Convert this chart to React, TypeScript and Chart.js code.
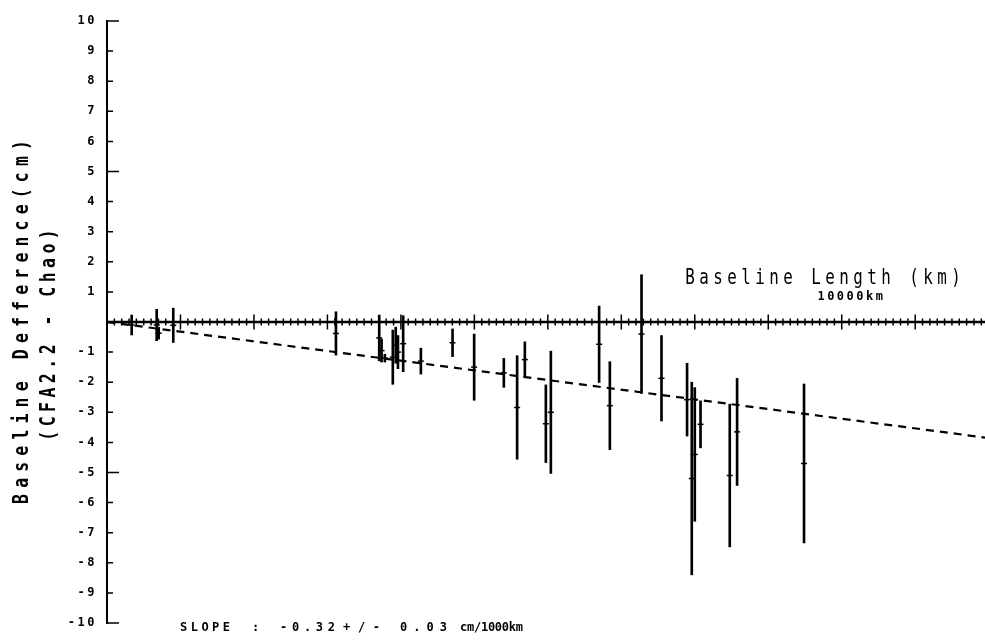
import React, { useEffect, useRef } from 'react';
import { Chart, registerables } from 'chart.js';

Chart.register(...registerables);

// ---- data ----
const baselineKm = [336, 676, 703, 902, 3116, 3705, 3737, 3782, 3890, 3930, 3960, 4031, 4272, 4703, 4997, 5401, 5582, 5687, 5973, 6041, 6698, 6844, 7275, 7547, 7895, 7959, 8000, 8078, 8476, 8576, 9487];
const diffCm = [-0.1, -0.1, -0.37, -0.11, -0.38, -0.53, -0.95, -1.2, -1.17, -0.77, -1.0, -0.72, -1.3, -0.69, -1.5, -1.69, -2.84, -1.25, -3.38, -3.0, -0.74, -2.78, -0.4, -1.87, -2.58, -5.2, -4.4, -3.4, -5.1, -3.65, -4.7];
const sigmaCm = [0.33, 0.52, 0.2, 0.57, 0.72, 0.76, 0.38, 0.13, 0.9, 0.6, 0.55, 0.93, 0.43, 0.46, 1.1, 0.48, 1.72, 0.59, 1.29, 2.03, 1.27, 1.46, 1.97, 1.42, 1.21, 3.2, 2.22, 0.78, 2.37, 1.78, 2.64];

const fitKm = [0, 11950];
const fitCm = [0, -3.84];

const yTicks = [10, 9, 8, 7, 6, 5, 4, 3, 2, 1, 0, -1, -2, -3, -4, -5, -6, -7, -8, -9, -10];
const xMinorStepKm = 100;
const xMajorStepKm = 1000;
const xLabelKm = 10000;
const xLabelText = '10000';
const xLabelUnit = 'km';

const yTitle1 = 'Baseline Defference(cm)';
const yTitle2 = '(CFA2.2 - Chao)';
const xTitle = 'Baseline Length (km)';
const slopeParts = ['SLOPE', ':', '-0.32', '+/-', '0.03', 'cm/1000km'];

const X_MIN = 0;
const X_MAX = 11950;

// layout of the slope note segments: [left, width]
const slopeLayout: [number, number][] = [[180, 50], [252, 6], [280, 55], [343, 37], [400, 47], [460, 63]];

function drawPitched(ctx: CanvasRenderingContext2D, text: string, startX: number, baseY: number, pitch: number, sx: number) {
  ctx.textAlign = 'center';
  ctx.textBaseline = 'alphabetic';
  for (let i = 0; i < text.length; i++) {
    const ch = text[i];
    if (ch === ' ') continue;
    const cx = startX + pitch * (i + 0.5);
    ctx.save();
    ctx.translate(cx, baseY);
    ctx.scale(sx, 1);
    ctx.fillText(ch, 0, 0);
    ctx.restore();
  }
}

function drawFitted(ctx: CanvasRenderingContext2D, text: string, x: number, y: number, width: number) {
  (ctx as any).letterSpacing = '0px';
  const w0 = ctx.measureText(text).width;
  const n = Math.max(text.length - 1, 1);
  const ls = text.length > 1 ? (width - w0) / n : 0;
  (ctx as any).letterSpacing = ls + 'px';
  ctx.textAlign = 'left';
  ctx.fillText(text, x, y);
  (ctx as any).letterSpacing = '0px';
}

const plotterPlugin = {
  id: 'plotterAxes',
  beforeDraw(chart: any) {
    (chart.ctx as any).letterSpacing = '2.5px';
  },
  afterDraw(chart: any) {
    const ctx: CanvasRenderingContext2D = chart.ctx;
    const xs = chart.scales.x;
    const ys = chart.scales.y;
    const { left, right, top, bottom } = chart.chartArea;
    ctx.save();
    (ctx as any).letterSpacing = '0px';
    ctx.strokeStyle = '#000';
    ctx.fillStyle = '#000';
    ctx.lineCap = 'butt';

    // vertical axis
    ctx.lineWidth = 2;
    ctx.beginPath();
    ctx.moveTo(left, top - 1);
    ctx.lineTo(left, bottom + 1);
    ctx.stroke();
    ctx.lineWidth = 1.5;
    ctx.beginPath();
    yTicks.forEach((v) => {
      if (v === 0) return;
      const py = ys.getPixelForValue(v);
      const len = Math.abs(v) % 5 === 0 ? 12 : 6;
      ctx.moveTo(left - 1, py);
      ctx.lineTo(left + len, py);
    });
    ctx.stroke();

    // horizontal axis through zero
    const y0 = ys.getPixelForValue(0);
    ctx.lineWidth = 2.5;
    ctx.beginPath();
    ctx.moveTo(left, y0);
    ctx.lineTo(right, y0);
    ctx.stroke();
    ctx.lineWidth = 1.5;
    ctx.beginPath();
    for (let k = X_MIN; k <= X_MAX; k += xMinorStepKm) {
      const px = xs.getPixelForValue(k);
      const half = k % xMajorStepKm === 0 ? 7.5 : 3.5;
      ctx.moveTo(px, y0 - half);
      ctx.lineTo(px, y0 + half);
    }
    ctx.stroke();

    // 10000km label
    ctx.font = 'bold 12px "DejaVu Sans Mono"';
    (ctx as any).letterSpacing = '2.5px';
    ctx.textAlign = 'left';
    ctx.textBaseline = 'alphabetic';
    const lx = xs.getPixelForValue(xLabelKm);
    const wNum = ctx.measureText(xLabelText).width;
    ctx.fillText(xLabelText + xLabelUnit, lx - wNum / 2, 300);
    (ctx as any).letterSpacing = '0px';

    // slope note
    ctx.font = 'bold 12px "DejaVu Sans Mono"';
    slopeParts.forEach((t, i) => {
      const [sx0, sw] = slopeLayout[i];
      drawFitted(ctx, t, sx0, 631, sw);
    });

    // x title
    ctx.font = '22px "DejaVu Sans Mono"';
    drawPitched(ctx, xTitle, 683, 284, 14, 0.72);

    // y title (two rotated lines)
    ctx.font = 'bold 22px "DejaVu Sans Mono"';
    ctx.save();
    ctx.translate(28, 322);
    ctx.rotate(-Math.PI / 2);
    drawPitched(ctx, yTitle1, -185, 0, 370 / yTitle1.length, 0.75);
    ctx.restore();
    ctx.save();
    ctx.translate(55, 335);
    ctx.rotate(-Math.PI / 2);
    drawPitched(ctx, yTitle2, -108, 0, 216 / yTitle2.length, 0.75);
    ctx.restore();

    ctx.restore();
  },
};

export default function App() {
  const ref = useRef<HTMLCanvasElement>(null);

  useEffect(() => {
    if (!ref.current) return;
    const errorBars = baselineKm.map((x, i) => ({ x, y: [diffCm[i] - sigmaCm[i], diffCm[i] + sigmaCm[i]] }));
    const centers = baselineKm.map((x, i) => ({ x, y: diffCm[i] }));
    const fit = fitKm.map((x, i) => ({ x, y: fitCm[i] }));

    const chart = new Chart(ref.current, {
      type: 'scatter',
      data: {
        datasets: [
          {
            type: 'line',
            data: fit,
            borderColor: '#000',
            borderWidth: 2.2,
            borderDash: [8, 6],
            pointRadius: 0,
            fill: false,
          } as any,
          {
            type: 'bar',
            data: errorBars,
            backgroundColor: '#000',
            borderWidth: 0,
            barThickness: 2,
          } as any,
          {
            type: 'scatter',
            data: centers,
            pointStyle: 'line',
            pointRadius: 3,
            borderColor: '#000',
            borderWidth: 1.5,
            backgroundColor: '#000',
          } as any,
        ],
      },
      options: {
        responsive: false,
        animation: false,
        devicePixelRatio: 1,
        layout: { autoPadding: false, padding: { top: 21, bottom: 21, left: 0, right: 0 } },
        plugins: {
          legend: { display: false },
          tooltip: { enabled: false },
          title: { display: false },
        },
        scales: {
          x: {
            type: 'linear',
            min: X_MIN,
            max: X_MAX,
            offset: false,
            display: false,
          },
          y: {
            type: 'linear',
            min: -10,
            max: 10,
            afterBuildTicks: (scale: any) => {
              scale.ticks = yTicks.map((v) => ({ value: v }));
            },
            afterFit: (scale: any) => {
              scale.width = 107;
            },
            grid: { display: false, drawOnChartArea: false, drawTicks: false },
            border: { display: false },
            ticks: {
              color: '#000',
              padding: 10,
              font: { family: 'DejaVu Sans Mono', size: 12, weight: 'bold' },
              callback: (v: any) => (Number(v) === 0 ? '' : String(v)),
            },
          },
        },
      } as any,
      plugins: [plotterPlugin],
    });
    return () => chart.destroy();
  }, []);

  return (
    <div style={{ position: 'absolute', left: 0, top: 0, width: 985, height: 644, background: '#fff' }}>
      <canvas ref={ref} width={985} height={644} style={{ display: 'block' }} />
    </div>
  );
}
